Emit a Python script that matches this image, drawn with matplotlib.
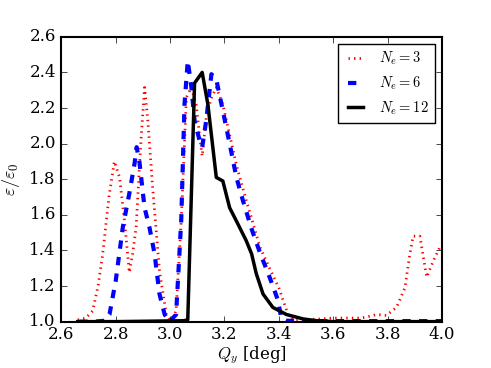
import numpy as np
import matplotlib
matplotlib.use("Agg")
import matplotlib.pyplot as plt

# Ne = 3 (red dotted)
q3 = [2.66, 2.69, 2.715, 2.735, 2.752, 2.775, 2.795, 2.814, 2.832, 2.85, 2.862, 2.875,
      2.89, 2.906, 2.918, 2.936, 2.961, 2.986, 2.998, 3.01, 3.022, 3.041, 3.06, 3.078,
      3.096, 3.108, 3.118, 3.133, 3.15, 3.17, 3.194, 3.219, 3.244, 3.28, 3.30, 3.33,
      3.366, 3.40, 3.434, 3.452, 3.50, 3.55, 3.60, 3.65, 3.70, 3.72, 3.76, 3.796,
      3.833, 3.864, 3.882, 3.894, 3.919, 3.944, 3.968, 3.993, 4.0]
e3 = [1.01, 1.02, 1.06, 1.2, 1.38, 1.7, 1.90, 1.81, 1.57, 1.276, 1.38, 1.53,
      1.95, 2.315, 2.13, 1.75, 1.285, 1.04, 1.01, 1.02, 1.06, 1.57, 2.26, 2.315,
      2.22, 2.05, 1.93, 2.15, 2.25, 2.315, 2.22, 2.05, 1.88, 1.68, 1.58, 1.42,
      1.30, 1.19, 1.04, 1.01, 1.012, 1.015, 1.02, 1.02, 1.02, 1.025, 1.04, 1.035,
      1.08, 1.19, 1.38, 1.48, 1.48, 1.25, 1.34, 1.42, 1.42]

# Ne = 6 (blue dashed)
q6 = [2.666, 2.72, 2.76, 2.777, 2.80, 2.826, 2.85, 2.869, 2.877, 2.887, 2.906, 2.924,
      2.943, 2.961, 2.98, 2.998, 3.022, 3.041, 3.053, 3.065, 3.078, 3.09, 3.108, 3.118,
      3.133, 3.152, 3.17, 3.194, 3.219, 3.244, 3.268, 3.30, 3.33, 3.366, 3.397, 3.409,
      3.43, 3.5, 3.6, 3.7, 3.8, 3.9, 4.0]
e6 = [1.0, 1.0, 1.005, 1.04, 1.23, 1.53, 1.72, 1.886, 1.98, 1.90, 1.64, 1.53,
      1.38, 1.155, 1.04, 1.0, 1.04, 1.57, 2.22, 2.465, 2.32, 2.13, 2.02, 1.98,
      2.13, 2.39, 2.36, 2.185, 2.0, 1.81, 1.68, 1.52, 1.39, 1.25, 1.12, 1.02,
      1.005, 1.003, 1.003, 1.003, 1.003, 1.003, 1.003]

# Ne = 12 (black solid)
q12 = [2.66, 2.8, 2.9, 3.0, 3.05, 3.065, 3.09, 3.118, 3.139, 3.17, 3.194, 3.219,
       3.244, 3.28, 3.30, 3.317, 3.342, 3.378, 3.428, 3.49, 3.54, 3.6, 3.8, 4.0]
e12 = [1.0, 1.0, 1.002, 1.004, 1.005, 1.01, 2.34, 2.40, 2.22, 1.81, 1.79, 1.64,
       1.565, 1.455, 1.38, 1.27, 1.155, 1.08, 1.04, 1.015, 1.005, 1.0, 1.0, 1.0]

plt.style.use("classic")
plt.rcParams["font.family"] = "serif"
plt.rcParams["font.serif"] = ["DejaVu Serif"]
plt.rcParams["mathtext.fontset"] = "cm"
plt.rcParams["font.size"] = 12

fig, ax = plt.subplots(figsize=(4.91, 3.68), dpi=100)
fig.subplots_adjust(left=0.125, right=0.9, top=0.9, bottom=0.126)

ax.plot(q3, e3, color="red", linestyle=":", linewidth=2, label=r"$N_e=3$")
ax.plot(q6, e6, color="blue", linestyle="--", linewidth=3, label=r"$N_e=6$")
ax.plot(q12, e12, color="black", linestyle="-", linewidth=2.5, label=r"$N_e=12$")

ax.set_xlim(2.6, 4.0)
ax.set_ylim(1.0, 2.6)
ax.set_xticks(np.arange(2.6, 4.01, 0.2))
ax.set_yticks(np.arange(1.0, 2.61, 0.2))
ax.tick_params(axis="x", pad=3)
ax.set_xlabel(r"$Q_y$ [deg]", labelpad=1)
ax.set_ylabel(r"$\varepsilon/\varepsilon_0$", fontsize=13)
for s in ax.spines.values():
    s.set_linewidth(1.5)

ax.legend(loc="upper right", fontsize=10.5, handlelength=1.6)

fig.savefig("out.png", dpi=100)
